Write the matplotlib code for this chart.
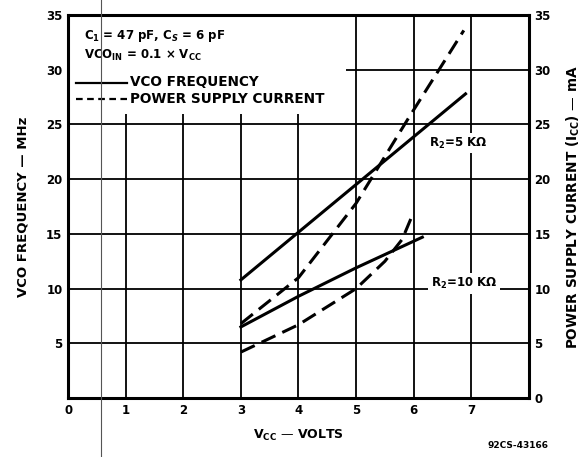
import matplotlib

matplotlib.use("Agg")
import matplotlib.pyplot as plt  # noqa: E402
from matplotlib.lines import Line2D  # noqa: E402
from matplotlib.patches import Rectangle  # noqa: E402

plt.rcParams["font.family"] = ["DejaVu Sans"]
plt.rcParams["font.weight"] = "bold"

# VCO frequency (MHz) vs Vcc
VCC_F5K = [3.0, 6.9]
FREQ_5K = [10.8, 27.8]
VCC_F10K = [3.0, 4.0, 5.0, 6.15]
FREQ_10K = [6.5, 9.3, 11.9, 14.7]
# supply current (mA) vs Vcc
VCC_I5K = [3.0, 4.0, 5.0, 5.9, 6.87]
ICC_5K = [6.8, 11.0, 17.8, 25.5, 33.6]
VCC_I10K = [3.0, 4.0, 5.0, 5.5, 5.8, 6.0]
ICC_10K = [4.2, 6.7, 10.0, 12.5, 14.5, 17.0]

X_TICKS = [0, 1, 2, 3, 4, 5, 6, 7]
LEFT_TICKS = [5, 10, 15, 20, 25, 30, 35]
RIGHT_TICKS = [0, 5, 10, 15, 20, 25, 30, 35]

fig = plt.figure(figsize=(5.87, 4.57), dpi=100)
ax = fig.add_axes([0.116, 0.129, 0.785, 0.838])
ax.set_xlim(0, 8)
ax.set_ylim(0, 35)

# grid (drawn by hand so it sits under the white label boxes)
for x in range(1, 8):
    ax.axvline(x, color="black", lw=1.3, zorder=1)
for y in range(5, 35, 5):
    ax.axhline(y, color="black", lw=1.3, zorder=1)
ax.add_patch(Rectangle((0.02, 26), 4.8, 8.9, facecolor="white", edgecolor="none", zorder=2))

ax.plot(VCC_F5K, FREQ_5K, color="black", lw=2.2, zorder=4)
ax.plot(VCC_F10K, FREQ_10K, color="black", lw=2.2, zorder=4)
ax.plot(VCC_I5K, ICC_5K, color="black", lw=2.2, ls=(0, (5, 2.5)), zorder=4)
ax.plot(VCC_I10K, ICC_10K, color="black", lw=2.2, ls=(0, (5, 2.5)), zorder=4)

# hand-drawn style legend
ax.text(0.27, 33.1, r"C$_1$ = 47 pF, C$_S$ = 6 pF", fontsize=8.5, fontweight="bold",
        va="center", zorder=5)
ax.text(0.27, 31.3, r"VCO$_{\rm IN}$ = 0.1 × V$_{\rm CC}$", fontsize=8.5, fontweight="bold",
        va="center", zorder=5)
ax.plot([0.14, 1.03], [28.8, 28.8], color="black", lw=1.6, zorder=5)
ax.plot([0.14, 1.03], [27.3, 27.3], color="black", lw=1.6, ls=(0, (3, 2)), zorder=5)
ax.text(1.07, 28.9, "VCO FREQUENCY", fontsize=9.8, fontweight="bold", va="center", zorder=5)
ax.text(1.07, 27.3, "POWER SUPPLY CURRENT", fontsize=9.8, fontweight="bold", va="center", zorder=5)

ax.text(6.77, 23.3, r"R$_2$=5 KΩ", fontsize=8.5, fontweight="bold", ha="center", va="center",
        zorder=5, bbox=dict(facecolor="white", edgecolor="none", pad=2))
ax.text(6.88, 10.5, r"R$_2$=10 KΩ", fontsize=8.5, fontweight="bold", ha="center", va="center",
        zorder=5, bbox=dict(facecolor="white", edgecolor="none", pad=2))

for s in ax.spines.values():
    s.set_linewidth(2.2)
    s.set_zorder(6)
ax.set_xticks(X_TICKS)
ax.set_yticks(LEFT_TICKS)
ax.tick_params(axis="both", direction="in", length=0, labelsize=8.5, pad=4)
ax.set_xlabel(r"V$_{\rm CC}$ — VOLTS", fontsize=9, fontweight="bold", labelpad=8)
ax.set_ylabel("VCO FREQUENCY — MHz", fontsize=9.5, fontweight="bold", labelpad=12)

ax2 = ax.twinx()
ax2.set_ylim(0, 35)
ax2.set_yticks(RIGHT_TICKS)
ax2.tick_params(axis="y", length=0, labelsize=8.5, pad=4)
for s in ax2.spines.values():
    s.set_visible(False)
ax2.set_ylabel(r"POWER SUPPLY CURRENT (I$_{\rm CC}$) — mA", fontsize=9.8, fontweight="bold",
               labelpad=10)

fig.text(0.935, 0.02, "92CS-43166", fontsize=6.5, fontweight="bold", ha="right")
# faint scan line through the page
fig.add_artist(Line2D([0.172, 0.172], [0, 1], color="#555555", lw=0.8, transform=fig.transFigure))

fig.savefig("out.png", dpi=100)
